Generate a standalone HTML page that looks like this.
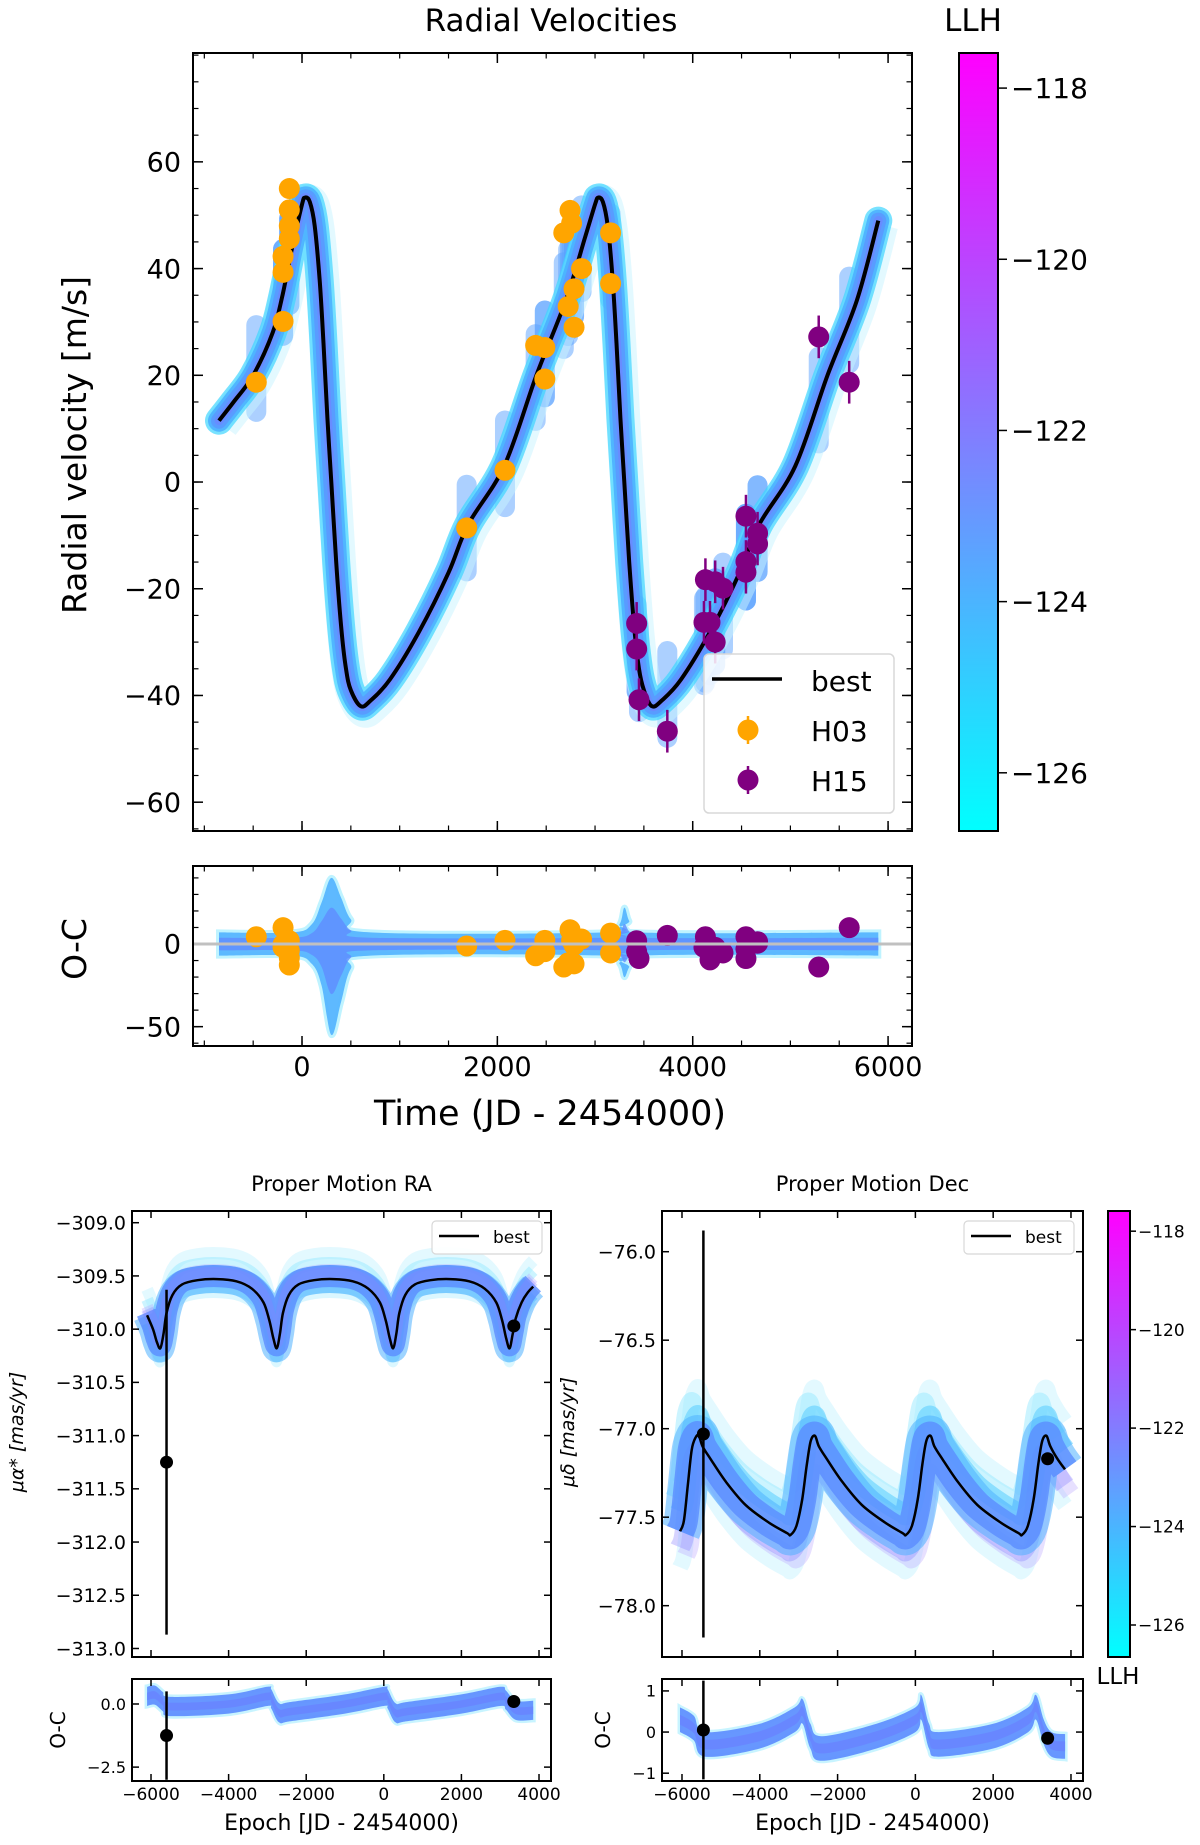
<!DOCTYPE html>
<html><head><meta charset="utf-8">
<style>
html,body{margin:0;padding:0;background:#fff;}
svg{display:block;font-family:"DejaVu Sans","Liberation Sans",sans-serif;}
</style></head>
<body>
<svg id="fig" xmlns="http://www.w3.org/2000/svg" width="1200" height="1845" viewBox="0 0 1200 1845">
<defs>
<linearGradient id="cool" x1="0" y1="1" x2="0" y2="0">
<stop offset="0" stop-color="#00ffff"/><stop offset="1" stop-color="#ff00ff"/>
</linearGradient>
<clipPath id="cTop"><rect x="193" y="53" width="719" height="778"/></clipPath>
<clipPath id="cTopOC"><rect x="193" y="866" width="719" height="180"/></clipPath>
<clipPath id="cRA"><rect x="132" y="1211" width="419" height="446"/></clipPath>
<clipPath id="cRAOC"><rect x="132" y="1679" width="419" height="102"/></clipPath>
<clipPath id="cDE"><rect x="662" y="1211" width="421" height="446"/></clipPath>
<clipPath id="cDEOC"><rect x="662" y="1679" width="421" height="102"/></clipPath>
</defs>
</svg>
<script>
// ---------- DATA ----------
const rvBestT = [-850,-700,-500,-300,-200,-100,0,30,80,130,180,220,260,300,350,400,450,500,600,700,900,1200,1500,1700,2070,2400,2700,2900,3000,3030,3080,3130,3180,3220,3260,3300,3350,3400,3450,3500,3580,3680,3880,4180,4480,4680,5050,5380,5680,5900];
const rvBestV = [11.5,15,20,28,35,44,52,53.3,52.5,48,38,26,12,0,-15,-27,-35,-39,-42,-41,-37,-28,-17,-8,3,20,34,46,52,53.3,52.5,48,38,26,12,0,-15,-27,-35,-39,-42,-41,-37,-28,-17,-8,3,20,34,49];
const h03T = [-468,-194,-194,-194,-130,-130,-130,-130,1686,2078,2392,2486,2486,2680,2744,2760,2725,2785,2862,2785,3159,3159];
const h03V = [18.7,30.1,39.3,42.3,45.6,48,51,55,-8.6,2.2,25.6,25.2,19.3,46.7,50.9,48.5,32.9,36.2,40,29,46.7,37.2];
const h15T = [5290,5602,3426,3426,3450,3740,4115,4177,4130,4230,4310,4230,4545,4545,4545,4664,4664];
const h15V = [27.2,18.7,-26.5,-31.3,-40.8,-46.7,-26.3,-26.3,-18.3,-18.7,-19.9,-30,-6.4,-14.9,-16.9,-9.6,-11.6];
const h03OC = [4.4,9.9,-2,-0.3,-8.4,-12.7,2,-4,-1.2,2.2,-7.1,2.2,-4.6,-13.9,8.6,2.2,-11.4,-0.6,3.0,-12,6.6,-5.4];
const h15OC = [-13.9,9.9,2,-4.6,-8.8,5.2,-2,-9.6,4.4,-2,-5.4,-5,4.4,-8.8,-3,1.4,0.5];
const ocBandT = [-850,-100,100,200,300,400,500,700,3100,3250,3300,3350,3450,5900];
const ocBandUp = [7,7,12,25,40,28,15,7,7,12,22,14,7,7];
const ocBandLo = [-7,-7,-12,-25,-55,-35,-15,-7,-7,-12,-20,-14,-7,-7];

const raBestT = [-6100,-5950,-5850,-5760,-5680,-5600,-5450,-5200,-4800,-4300,-3800,-3400,-3100,-2950,-2850,-2760,-2680,-2600,-2450,-2200,-1800,-1300,-800,-400,-100,50,150,240,320,400,550,800,1200,1700,2200,2600,2900,3050,3150,3240,3320,3400,3550,3700,3850];
const raBestV = [-309.87,-310.0,-310.12,-310.18,-310.05,-309.85,-309.68,-309.58,-309.54,-309.53,-309.55,-309.62,-309.75,-309.92,-310.08,-310.18,-310.05,-309.85,-309.68,-309.58,-309.54,-309.53,-309.55,-309.62,-309.75,-309.92,-310.08,-310.18,-310.05,-309.85,-309.68,-309.58,-309.54,-309.53,-309.55,-309.62,-309.75,-309.92,-310.08,-310.18,-310.05,-309.9,-309.75,-309.66,-309.6];
const raObsT = [-5600,3350];
const raObsV = [-311.25,-309.97];
const raObsErr = [1.62,0.05];
const raOcV = [-1.25,0.1];
const raOcErr = [1.75,0.05];
const raOcBandT = [-6100,-5900,-5700,-5500,-4000,-3000,-2900,-2700,-2400,-1000,0,100,300,600,2000,3000,3150,3400,3850];
const raOcBandC = [0.3,0.35,0.1,-0.1,0.0,0.3,0.2,-0.35,-0.3,0.0,0.3,0.2,-0.35,-0.3,0.0,0.3,0.15,-0.25,-0.25];

const deBestT = [-6050,-5950,-5850,-5750,-5650,-5568,-5470,-5270,-4870,-4370,-3770,-3300,-3208,-3060,-2910,-2790,-2690,-2581,-2480,-2280,-1880,-1380,-780,-330,-241,-90,60,180,280,391,490,690,1090,1590,2190,2650,2741,2890,3040,3160,3260,3370,3470,3650,3846];
const deBestV = [-77.58,-77.52,-77.32,-77.12,-77.05,-77.04,-77.1,-77.17,-77.3,-77.43,-77.53,-77.59,-77.6,-77.55,-77.4,-77.2,-77.07,-77.04,-77.1,-77.17,-77.3,-77.43,-77.53,-77.59,-77.6,-77.55,-77.4,-77.2,-77.07,-77.04,-77.1,-77.17,-77.3,-77.43,-77.53,-77.59,-77.6,-77.55,-77.4,-77.2,-77.07,-77.04,-77.1,-77.17,-77.23];
const deObsT = [-5450,3400];
const deObsV = [-77.03,-77.17];
const deObsErr = [1.15,0.03];
const deOcV = [0.05,-0.15];
const deOcErr = [1.2,0.03];
const deOcBandT = [-6050,-5700,-5400,-4000,-3100,-2900,-2700,-2400,-1000,0,150,350,600,2000,2900,3100,3300,3500,3850];
const deOcBandC = [0.3,0.1,-0.3,-0.1,0.3,0.5,-0.1,-0.4,-0.1,0.3,0.6,-0.1,-0.3,-0.1,0.3,0.6,0.0,-0.3,-0.35];

const topXTicks = [0,2000,4000,6000];
const topYTicks = [-60,-40,-20,0,20,40,60];
const topOCTicks = [-50,0];
const cbTicks = [-118,-120,-122,-124,-126];
const bXTicks = [-6000,-4000,-2000,0,2000,4000];
const raYTicks = [-309.0,-309.5,-310.0,-310.5,-311.0,-311.5,-312.0,-312.5,-313.0];
const raOCTicks = [0.0,-2.5];
const deYTicks = [-76.0,-76.5,-77.0,-77.5,-78.0];
const deOCTicks = [1,0,-1];

// ---------- HELPERS ----------
const NS = "http://www.w3.org/2000/svg";
const svg = document.getElementById('fig');
function el(tag, attrs, parent){
  const e = document.createElementNS(NS, tag);
  for (const k in attrs) e.setAttribute(k, attrs[k]);
  (parent||svg).appendChild(e);
  return e;
}
function lin(d0,d1,p0,p1){ return v => p0 + (v-d0)*(p1-p0)/(d1-d0); }
function smooth(pts){
  let d = 'M'+pts[0][0].toFixed(1)+','+pts[0][1].toFixed(1);
  for (let i=0;i<pts.length-1;i++){
    const p0=pts[Math.max(0,i-1)], p1=pts[i], p2=pts[i+1], p3=pts[Math.min(pts.length-1,i+2)];
    const c1x=p1[0]+(p2[0]-p0[0])/6, c1y=p1[1]+(p2[1]-p0[1])/6;
    const c2x=p2[0]-(p3[0]-p1[0])/6, c2y=p2[1]-(p3[1]-p1[1])/6;
    d+=' C'+c1x.toFixed(1)+','+c1y.toFixed(1)+' '+c2x.toFixed(1)+','+c2y.toFixed(1)+' '+p2[0].toFixed(1)+','+p2[1].toFixed(1);
  }
  return d;
}
function fmt(v,dec){ const s = Math.abs(v).toFixed(dec); return (v<0?'\u2212':'')+s; }
function frame(x0,y0,x1,y1,name){
  const r = el('rect',{x:x0,y:y0,width:x1-x0,height:y1-y0,fill:'none',stroke:'#000','stroke-width':2});
  
  
}
function ticksX(g, sx, vals, minorStep, dmin, dmax, y0, y1, len, labels, fs, ly){
  vals.forEach(v=>{
    const x = sx(v);
    el('line',{x1:x,x2:x,y1:y1,y2:y1-len,stroke:'#000','stroke-width':1.5},g);
    el('line',{x1:x,x2:x,y1:y0,y2:y0+len,stroke:'#000','stroke-width':1.5},g);
    if (labels){
      const t = el('text',{x:x,y:ly,'font-size':fs,'text-anchor':'middle',fill:'#000'},g);
      t.textContent = fmt(v,0);
      
      
    }
  });
  if (minorStep){
    for (let v=Math.ceil(dmin/minorStep)*minorStep; v<=dmax; v+=minorStep){
      const x = sx(v);
      el('line',{x1:x,x2:x,y1:y1,y2:y1-len*0.55,stroke:'#000','stroke-width':1.2},g);
      el('line',{x1:x,x2:x,y1:y0,y2:y0+len*0.55,stroke:'#000','stroke-width':1.2},g);
    }
  }
}
function ticksY(g, sy, vals, dec, minorStep, dmin, dmax, x0, x1, len, fs, lx){
  vals.forEach(v=>{
    const y = sy(v);
    el('line',{x1:x0,x2:x0+len,y1:y,y2:y,stroke:'#000','stroke-width':1.5},g);
    el('line',{x1:x1,x2:x1-len,y1:y,y2:y,stroke:'#000','stroke-width':1.5},g);
    const t = el('text',{x:lx,y:y+fs*0.36,'font-size':fs,'text-anchor':'end',fill:'#000'},g);
    t.textContent = fmt(v,dec);
    
    
  });
  if (minorStep){
    for (let v=Math.ceil(dmin/minorStep)*minorStep; v<=dmax; v+=minorStep){
      const y = sy(v);
      el('line',{x1:x0,x2:x0+len*0.55,y1:y,y2:y,stroke:'#000','stroke-width':1.2},g);
      el('line',{x1:x1,x2:x1-len*0.55,y1:y,y2:y,stroke:'#000','stroke-width':1.2},g);
    }
  }
}
function text(x,y,s,fs,name,extra){
  const t = el('text',Object.assign({x:x,y:y,'font-size':fs,fill:'#000','text-anchor':'middle'},extra||{}));
  t.textContent = s;
  
  
  return t;
}
function bandStrokes(g, d, widths, colors, ops){
  widths.forEach((w,i)=>{
    el('path',{d:d,fill:'none',stroke:colors[i],'stroke-width':w,'stroke-opacity':ops[i],'stroke-linejoin':'round','stroke-linecap':'round'},g);
  });
}
function colorbar(x0,y0,x1,y1,vmin,vmax,fs,name){
  const r = el('rect',{x:x0,y:y0,width:x1-x0,height:y1-y0,fill:'url(#cool)',stroke:'#000','stroke-width':2});
  
  
  const sc = lin(vmin,vmax,y1,y0);
  cbTicks.forEach(v=>{
    const y = sc(v);
    el('line',{x1:x1,x2:x1+(fs>20?9:6),y1:y,y2:y,stroke:'#000','stroke-width':1.5});
    const t = el('text',{x:x1+(fs>20?13:8),y:y+fs*0.36,'font-size':fs,fill:'#000'});
    t.textContent = fmt(v,0);
    
    
  });
}

// ---------- TOP RV PANEL ----------
const sxT = lin(-1116,6245,193,912);
const syT = lin(-65.4,80.4,831,53);
const syTO = lin(-61.7,47.2,1046,866);
const gTop = el('g',{'clip-path':'url(#cTop)'});


const bestPts = rvBestT.map((t,i)=>[sxT(t),syT(rvBestV[i])]);
const bestD = smooth(bestPts);
const allT = h03T.concat(h15T);
allT.forEach(t=>{
  let j=0; while(j<rvBestT.length-2 && rvBestT[j+1]<t) j++;
  const f=(t-rvBestT[j])/(rvBestT[j+1]-rvBestT[j]);
  const yv = rvBestV[j]+f*(rvBestV[j+1]-rvBestV[j]);
  const b = el('rect',{x:sxT(t)-10,y:syT(yv+10),width:20,height:syT(yv-10)-syT(yv+10),rx:10,fill:'#5aa2ff','fill-opacity':0.5},gTop);
  
  
});
el('path',{d:bestD,fill:'none',stroke:'#c8f4ff','stroke-width':34,'stroke-opacity':0.5,transform:'translate(3,4)'},gTop);
bandStrokes(gTop,bestD,[28,22,16,9],['#3fd6ff','#4aaeff','#5a98ff','#6f86ff'],[0.7,0.85,0.85,0.7]);
const bestLine = el('path',{d:bestD,fill:'none',stroke:'#000','stroke-width':4},gTop);


h03T.forEach((t,i)=>{
  const c = el('circle',{cx:sxT(t),cy:syT(h03V[i]),r:10.5,fill:'#ffa500'},gTop);
  
  
});
h15T.forEach((t,i)=>{
  const x=sxT(t), y=syT(h15V[i]);
  el('line',{x1:x,x2:x,y1:syT(h15V[i]+4),y2:syT(h15V[i]-4),stroke:'#800080','stroke-width':2.5},gTop);
  const c = el('circle',{cx:x,cy:y,r:10.5,fill:'#800080'},gTop);
  
  
});
frame(193,53,912,831,'rv-plot-frame');
const gTT = el('g',{});
ticksX(gTT,sxT,topXTicks,500,-1116,6245,53,831,10,false);
ticksY(gTT,syT,topYTicks,0,5,-65,80,193,912,10,27,181);

const lg = el('rect',{x:704,y:654,width:190,height:159,rx:5,fill:'#fff','fill-opacity':0.85,stroke:'#d8d8d8','stroke-width':1.5});


el('line',{x1:712,x2:782,y1:679,y2:679,stroke:'#000','stroke-width':3.5});
text(811,691,'best',28,'legend-best-label',{'text-anchor':'start'});
el('line',{x1:748,x2:748,y1:716,y2:744,stroke:'#ffa500','stroke-width':2.5});
el('circle',{cx:748,cy:730,r:10.5,fill:'#ffa500'});
text(811,741,'H03',28,'legend-h03-label',{'text-anchor':'start'});
el('line',{x1:748,x2:748,y1:766,y2:794,stroke:'#800080','stroke-width':2.5});
el('circle',{cx:748,cy:780,r:10.5,fill:'#800080'});
text(811,791,'H15',28,'legend-h15-label',{'text-anchor':'start'});

const gTO = el('g',{'clip-path':'url(#cTopOC)'});


const upP = ocBandT.map((t,i)=>[sxT(t),syTO(ocBandUp[i])]);
const loP = ocBandT.map((t,i)=>[sxT(t),syTO(ocBandLo[i])]).reverse();
const bandD = smooth(upP)+' L'+smooth(loP).slice(1)+' Z';
el('path',{d:bandD,fill:'#bff3ff','fill-opacity':0.7,stroke:'#bff3ff','stroke-width':6},gTO);
el('path',{d:bandD,fill:'#4aaeff','fill-opacity':0.85},gTO);
const midUp = ocBandT.map((t,i)=>[sxT(t),syTO(ocBandUp[i]*0.55)]);
const midLo = ocBandT.map((t,i)=>[sxT(t),syTO(ocBandLo[i]*0.55)]).reverse();
el('path',{d:smooth(midUp)+' L'+smooth(midLo).slice(1)+' Z',fill:'#5f8cff','fill-opacity':0.8},gTO);
el('line',{x1:193,x2:912,y1:syTO(0),y2:syTO(0),stroke:'#c0c0c0','stroke-width':3});
const zl = el('line',{x1:sxT(-850),x2:sxT(5900),y1:syTO(0),y2:syTO(0),stroke:'#6a6ab0','stroke-width':3,'stroke-dasharray':'16,8'},gTO);


h03T.forEach((t,i)=>{
  const c = el('circle',{cx:sxT(t),cy:syTO(h03OC[i]),r:10.5,fill:'#ffa500'},gTO);
  
  
});
h15T.forEach((t,i)=>{
  const c = el('circle',{cx:sxT(t),cy:syTO(h15OC[i]),r:10.5,fill:'#800080'},gTO);
  
  
});
frame(193,866,912,1046,'rv-residual-frame');
ticksX(gTT,sxT,topXTicks,500,-1116,6245,866,1046,10,true,27,1076);
ticksY(gTT,syTO,topOCTicks,0,10,-60,40,193,912,10,27,181);

text(551,31,'Radial Velocities',31,'rv-title');
text(973,31,'LLH',31,'colorbar-title');
text(74,445,'Radial velocity [m/s]',33,'rv-y-axis-title',{transform:'rotate(-90 74 445)'}).setAttribute('y',457);
text(74,949,'O-C',33,'rv-residual-y-title',{transform:'rotate(-90 74 949)'}).setAttribute('y',961);
text(550,1125,'Time (JD - 2454000)',35,'rv-x-axis-title');
colorbar(959,53,998,831,-126.68,-117.59,28,'llh-colorbar');

// ---------- PROPER MOTION PANELS ----------
function pmPanel(cfg){
  const sx = lin(cfg.xmin,cfg.xmax,cfg.x0,cfg.x1);
  const sy = lin(cfg.ymin,cfg.ymax,1657,1211);
  const so = lin(cfg.omin,cfg.omax,1781,1679);
  const g = el('g',{'clip-path':'url(#'+cfg.clip+')'});
  
  
  const pts = cfg.bestT.map((t,i)=>[sx(t),sy(cfg.bestV[i])]);
  const d = smooth(pts);
  cfg.shifts.forEach((s,i)=>{
    el('path',{d:d,fill:'none',stroke:s[2],'stroke-width':s[3],'stroke-opacity':s[4],transform:'translate('+s[0]+','+s[1]+')'},g);
  });
  const bl = el('path',{d:d,fill:'none',stroke:'#000','stroke-width':2.5},g);
  
  
  cfg.obsT.forEach((t,i)=>{
    el('line',{x1:sx(t),x2:sx(t),y1:sy(cfg.obsV[i]+cfg.obsE[i]),y2:sy(cfg.obsV[i]-cfg.obsE[i]),stroke:'#000','stroke-width':2.5},g);
    const c = el('circle',{cx:sx(t),cy:sy(cfg.obsV[i]),r:6.5,fill:'#000'},g);
    
    
  });
  frame(cfg.x0,1211,cfg.x1,1657,cfg.name+'-plot-frame');
  const go = el('g',{'clip-path':'url(#'+cfg.oclip+')'});
  
  
  const up = cfg.ocT.map((t,i)=>[sx(t),so(cfg.ocC[i]+cfg.ocHalf)]);
  const lo = cfg.ocT.map((t,i)=>[sx(t),so(cfg.ocC[i]-cfg.ocHalf)]).reverse();
  const bd = smooth(up)+' L'+smooth(lo).slice(1)+' Z';
  el('path',{d:bd,fill:'#c8f4ff','fill-opacity':0.7,stroke:'#c8f4ff','stroke-width':5},go);
  el('path',{d:bd,fill:'#5b8cff','fill-opacity':0.9},go);
  const up2 = cfg.ocT.map((t,i)=>[sx(t),so(cfg.ocC[i]+cfg.ocHalf*0.4)]);
  const lo2 = cfg.ocT.map((t,i)=>[sx(t),so(cfg.ocC[i]-cfg.ocHalf*0.4)]).reverse();
  el('path',{d:smooth(up2)+' L'+smooth(lo2).slice(1)+' Z',fill:'#6a80ff','fill-opacity':0.7},go);
  cfg.obsT.forEach((t,i)=>{
    el('line',{x1:sx(t),x2:sx(t),y1:so(cfg.ocV[i]+cfg.ocE[i]),y2:so(cfg.ocV[i]-cfg.ocE[i]),stroke:'#000','stroke-width':2.5},go);
    const c = el('circle',{cx:sx(t),cy:so(cfg.ocV[i]),r:6.5,fill:'#000'},go);
    
    
  });
  frame(cfg.x0,1679,cfg.x1,1781,cfg.name+'-residual-frame');
  const gt = el('g',{});
  ticksX(gt,sx,bXTicks,0,0,0,1211,1657,7,false);
  ticksX(gt,sx,bXTicks,0,0,0,1679,1781,7,true,17,1800);
  ticksY(gt,sy,cfg.yTicks,cfg.ydec,0,0,0,cfg.x0,cfg.x1,7,19,cfg.x0-6);
  ticksY(gt,so,cfg.oTicks,cfg.odec,0,0,0,cfg.x0,cfg.x1,7,16,cfg.x0-6);
  text((cfg.x0+cfg.x1)/2,1191,cfg.title,21,cfg.name+'-title');
  text((cfg.x0+cfg.x1)/2,1830,'Epoch [JD - 2454000)',22,cfg.name+'-x-axis-title');
  const lr = el('rect',{x:cfg.x1-119,y:1221,width:110,height:33,rx:4,fill:'#fff','fill-opacity':0.9,stroke:'#d8d8d8','stroke-width':1.2});
  
  
  el('line',{x1:cfg.x1-112,x2:cfg.x1-72,y1:1236,y2:1236,stroke:'#000','stroke-width':2.5});
  text(cfg.x1-58,1243,'best',17,cfg.name+'-legend-label',{'text-anchor':'start'});
  const oy = (1679+1781)/2;
  text(cfg.oLabX,oy,'O-C',20,cfg.name+'-residual-y-title',{transform:'rotate(-90 '+cfg.oLabX+' '+oy+')'}).setAttribute('y',oy+7);
}
const raShifts = [[0,-26,'#c8f4ff',12,0.5],[0,-16,'#8fe6ff',12,0.45],[0,-9,'#b9a6ff',12,0.35],[0,8,'#5fd0ff',12,0.55],[0,14,'#b8f0ff',10,0.5],[0,0,'#4fb0ff',28,0.55],[0,-3,'#5b8cff',22,0.8],[0,-6,'#8a80ff',12,0.3]];
pmPanel({name:'pm-ra',title:'Proper Motion RA',x0:132,x1:551,xmin:-6490,xmax:4309,ymin:-313.08,ymax:-308.89,omin:-3.05,omax:0.99,
  clip:'cRA',oclip:'cRAOC',bestT:raBestT,bestV:raBestV,shifts:raShifts,obsT:raObsT,obsV:raObsV,obsE:raObsErr,
  ocT:raOcBandT,ocC:raOcBandC,ocHalf:0.38,ocV:raOcV,ocE:raOcErr,yTicks:raYTicks,ydec:1,oTicks:raOCTicks,odec:1,oLabX:58});
const deShifts = [[0,-48,'#c8f4ff',16,0.5],[-6,-34,'#8fe6ff',18,0.45],[0,36,'#c8f4ff',16,0.5],[6,24,'#b9a6ff',18,0.35],[0,-20,'#5fd0ff',20,0.6],[0,16,'#8a80ff',20,0.35],[0,0,'#4fb0ff',40,0.55],[0,0,'#5b8cff',28,0.8]];
pmPanel({name:'pm-dec',title:'Proper Motion Dec',x0:662,x1:1083,xmin:-6514,xmax:4309,ymin:-78.29,ymax:-75.77,omin:-1.19,omax:1.29,
  clip:'cDE',oclip:'cDEOC',bestT:deBestT,bestV:deBestV,shifts:deShifts,obsT:deObsT,obsV:deObsV,obsE:deObsErr,
  ocT:deOcBandT,ocC:deOcBandC,ocHalf:0.3,ocV:deOcV,ocE:deOcErr,yTicks:deYTicks,ydec:1,oTicks:deOCTicks,odec:0,oLabX:603});
text(16,1432,'\u03bc\u03b1* [mas/yr]',19,'pm-ra-y-axis-title',{transform:'rotate(-90 16 1432)','font-style':'italic'}).setAttribute('y',1439);
text(567,1432,'\u03bc\u03b4 [mas/yr]',19,'pm-dec-y-axis-title',{transform:'rotate(-90 567 1432)','font-style':'italic'}).setAttribute('y',1439);
colorbar(1108,1211,1130,1657,-126.65,-117.59,17,'pm-llh-colorbar');
text(1118,1684,'LLH',23,'pm-colorbar-title');
</script>
</body></html>
